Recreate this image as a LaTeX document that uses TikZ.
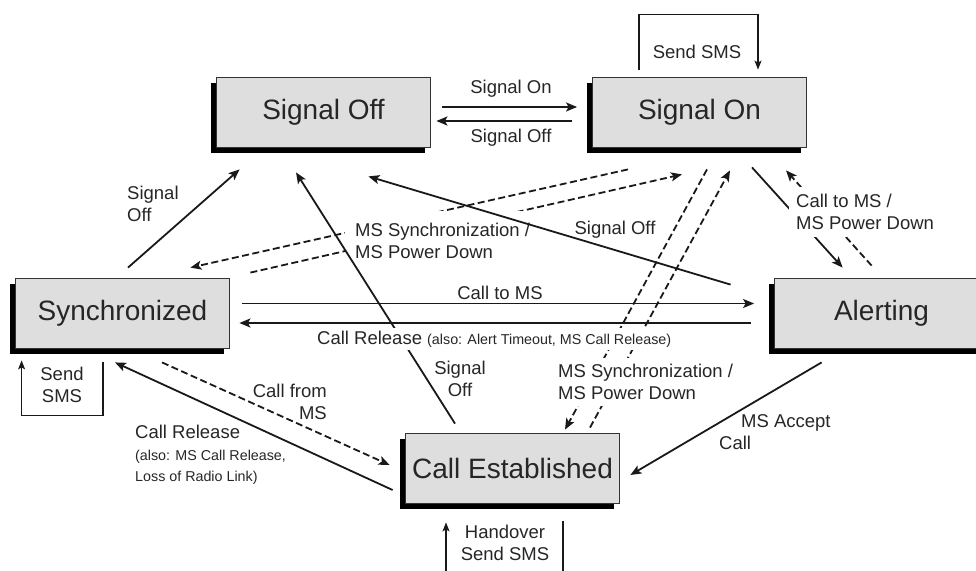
\documentclass[tikz,border=0pt]{standalone}
\usepackage{fontspec}
\setmainfont{Liberation Sans}
\usetikzlibrary{arrows.meta,calc,shadows}
\begin{document}
\begin{tikzpicture}[x=1pt,y=-1pt,
  statebox/.style={draw=black!80, line width=0.8pt, fill=black!13, minimum width=214pt, minimum height=70pt, inner sep=0pt,
    font=\fontsize{28}{32}\selectfont, text=black!85,
    general shadow={fill=black, shadow xshift=-6pt, shadow yshift=-6pt}},
  conn/.style={line width=1.8pt, black!90, -{Stealth[length=11pt,width=9pt,inset=2.5pt]}},
  dconn/.style={conn, dash pattern=on 7pt off 3.5pt},
  loopline/.style={line width=1.2pt, black!90, -{Stealth[length=9pt,width=7pt,inset=2pt]}},
  lbl/.style={font=\fontsize{18.5}{22}\selectfont, text=black!85, inner sep=1pt},
  wlbl/.style={lbl, fill=white}
]
\useasboundingbox (0,0) rectangle (976,570);
\clip (0,0) rectangle (976,570);

% states
\node[statebox] (soff) at (323.5,112) {Signal Off};
\node[statebox] (son) at (699.5,112) {Signal On};
\node[statebox] (sync) at (122.5,313) {Synchronized};
\node[statebox] (alert) at (881.5,313) {Alerting};
\node[statebox] (ce) at (512.5,468) {Call Established};

% connectors
\draw[conn] ($(soff.east)+(11.5,-5)$) -- ($(son.west)+(-15,-5)$);
\draw[conn] ($(son.west)+(-20,9)$) -- ($(soff.east)+(5.5,9)$);
\draw[loopline] ($(son.north)+(-60.5,-7)$) |- ($(son.north)+(0,-62)$) -| ($(son.north)+(58.5,-7)$);
\draw[conn] ($(sync.north)+(5.5,-10)$) -- ($(soff.south west)+(23.5,22)$);
\draw[dconn] ($(son.south)+(-71.5,22)$) -- ($(sync.north east)+(-39.5,-10)$);
\draw[dconn] ($(sync.north east)+(20.5,-5)$) -- ($(son.south)+(-17.5,27)$);
\draw[conn] ($(sync.east)+(12,-9.5)$) -- ($(alert.west)+(-20,-9.5)$);
\draw[conn] ($(alert.west)+(-23,10)$) -- ($(sync.east)+(9.5,10)$);
\draw[loopline] ($(sync.south)+(-19.5,14)$) -- ++(0,53) -| ($(sync.south west)+(6.5,12)$);
\draw[dconn] ($(sync.south)+(39.5,14)$) -- ($(ce.west)+(-15.5,-3)$);
\draw[conn] ($(ce.west)+(-12.5,22)$) -- ($(sync.south)+(-7.5,14)$);
\draw[dconn] ($(son.south)+(7.5,22)$) -- ($(ce.north)+(52.5,-3)$);
\draw[dconn] ($(ce.north)+(77.5,-5)$) -- ($(son.south)+(30.5,23)$);
\draw[conn] ($(son.south)+(52.5,20)$) -- ($(alert.north west)+(68.5,-10)$);
\draw[dconn] ($(alert.north west)+(97.5,-12)$) -- ($(son.south)+(86.5,23)$);
\draw[conn] ($(alert.south west)+(47.5,14)$) -- ($(ce.east)+(10.5,7)$);
\draw[loopline] ($(ce.south)+(50.5,18)$) -- ++(0,80) -| ($(ce.south)+(-66.5,19)$);

% label that hides the two dashed lines
\node[wlbl, anchor=west, align=left, inner xsep=10pt, inner ysep=12pt] (l7) at (345,241) {MS Synchronization /\\MS Power Down};

% drawn over that label
\draw[conn] ($(ce.north)+(-57.5,-9)$) -- ($(soff.south)+(-27.5,25)$);
\draw[conn] ($(alert.north west)+(-43.5,7)$) -- ($(soff.south east)+(-62.5,29)$);

% labels
\node[lbl] (l1) at (511,89) {Signal On};
\node[lbl] (l2) at (511,138) {Signal Off};
\node[lbl] (l3) at (697,52) {Send SMS};
\node[lbl, anchor=west, align=left] (l4) at (126,204) {Signal\\Off};
\node[lbl, align=center] (l5) at (460,379) {Signal\\Off};
\node[lbl] (l6) at (615,230) {Signal Off};
\node[lbl] (l8) at (500,293) {Call to MS};
\node[wlbl, anchor=west, inner ysep=3pt] (l9) at (316,339) {Call Release {\fontsize{14.3}{17}\selectfont (also: Alert Timeout, MS Call Release)}};
\node[wlbl, anchor=west, align=left, inner xsep=6pt, inner ysep=6pt] (l10) at (552,382) {MS Synchronization /\\MS Power Down};
\node[wlbl, anchor=west, align=left, inner xsep=7pt, inner ysep=7pt] (l11) at (789,212) {Call to MS /\\MS Power Down};
\node[lbl, align=center] (l12) at (62,385) {Send\\SMS};
\node[lbl, anchor=east, align=right] (l13) at (328,402) {Call from\\MS};
\node[lbl, anchor=west, align=left, font=\fontsize{14.3}{21.5}\selectfont] (l14) at (134,455) {{\fontsize{18.5}{21.5}\selectfont Call Release}\\(also: MS Call Release,\\Loss of Radio Link)};
\node[lbl, anchor=west, align=left] (l15) at (718,432.5) {\hspace*{22pt}MS Accept\\Call};
\node[lbl, align=center] (l16) at (505,543) {Handover\\Send SMS};
\end{tikzpicture}
\end{document}
